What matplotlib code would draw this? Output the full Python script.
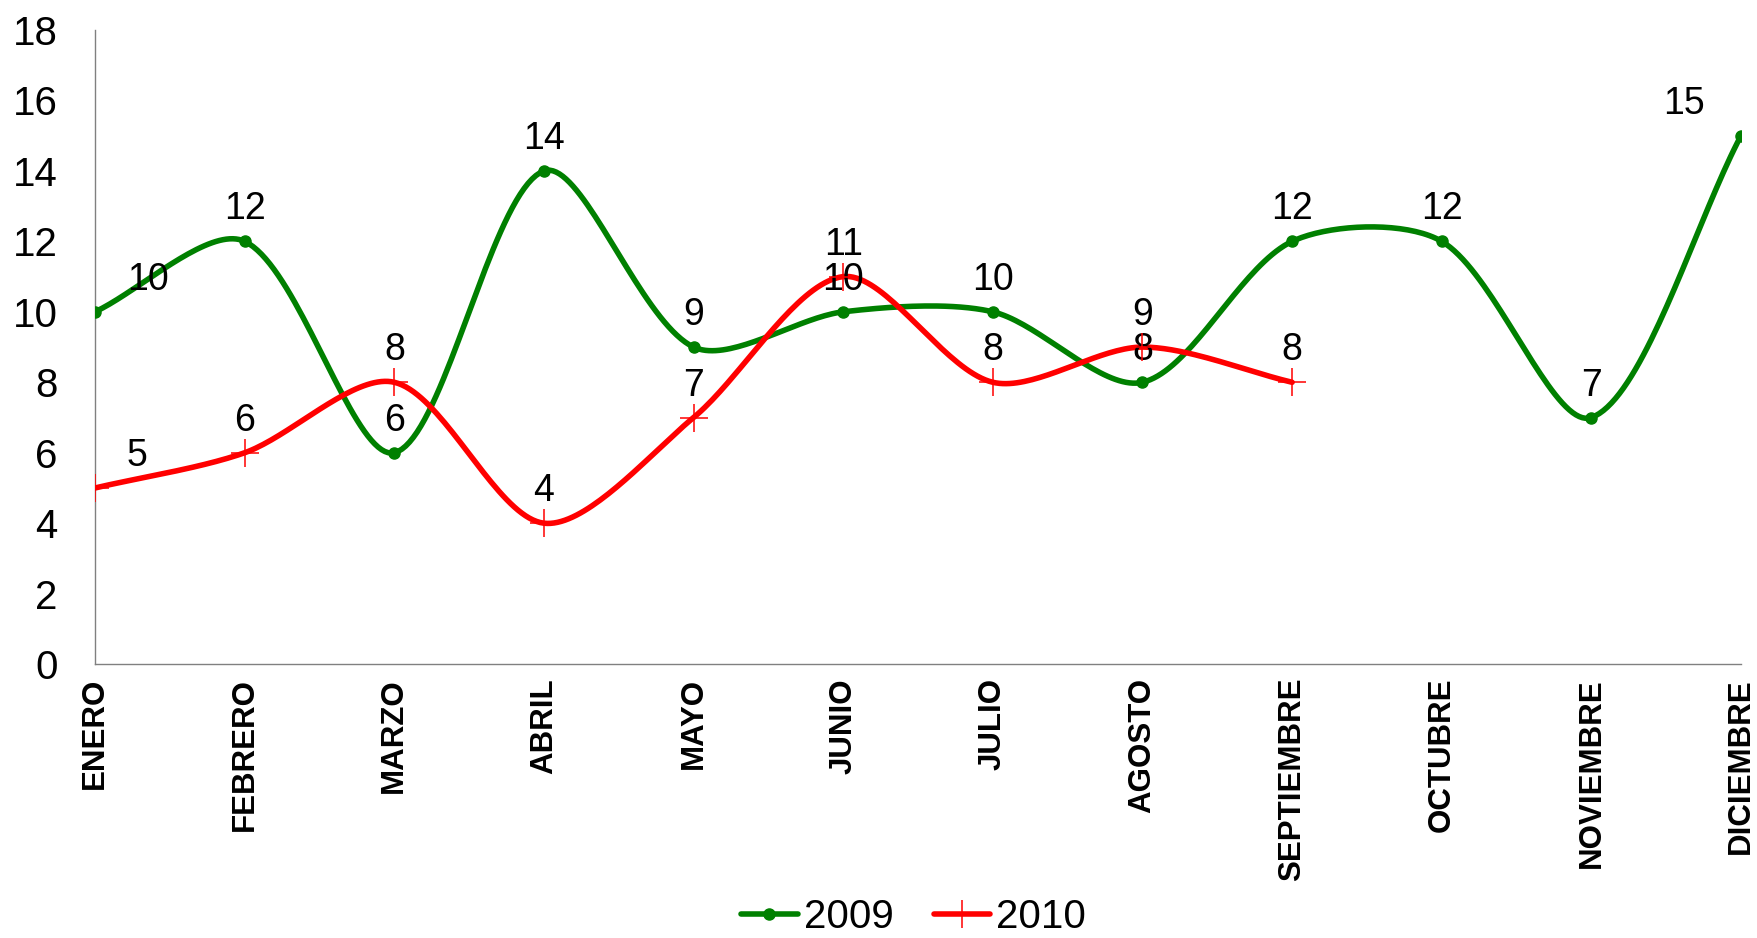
import numpy as np
import matplotlib.pyplot as plt
from matplotlib.lines import Line2D

months = ['ENERO', 'FEBRERO', 'MARZO', 'ABRIL', 'MAYO', 'JUNIO', 'JULIO',
          'AGOSTO', 'SEPTIEMBRE', 'OCTUBRE', 'NOVIEMBRE', 'DICIEMBRE']
vals_2009 = [10, 12, 6, 14, 9, 10, 10, 8, 12, 12, 7, 15]
vals_2010 = [5, 6, 8, 4, 7, 11, 8, 9, 8]

plt.rcParams['font.family'] = ['Liberation Sans', 'DejaVu Sans']

# pixel size of one unit on each axis, so the smoothing is done in screen space
XPX = 1646 / 11
YPX = 634 / 18


def smooth(y, steps=40, k=0.9):
    # excel-like smoothed line: bezier, control points scaled by chord length
    p = np.column_stack([np.arange(len(y)) * XPX, np.asarray(y, float) * YPX])
    n = len(p)
    t = np.linspace(0, 1, steps)[:, None]
    out = []
    for i in range(n - 1):
        a = p[max(i - 1, 0)]
        b = p[i]
        c = p[i + 1]
        d = p[min(i + 2, n - 1)]
        lab = np.linalg.norm(b - a)
        lbc = np.linalg.norm(c - b)
        lcd = np.linalg.norm(d - c)
        c1 = b + (c - a) * lbc / (lab + lbc) / 3 * k
        c2 = c - (d - b) * lbc / (lbc + lcd) / 3 * k
        out.append((1 - t) ** 3 * b + 3 * (1 - t) ** 2 * t * c1
                   + 3 * (1 - t) * t ** 2 * c2 + t ** 3 * c)
    out = np.vstack(out)
    return out[:, 0] / XPX, out[:, 1] / YPX


fig = plt.figure(figsize=(17.57, 9.38), dpi=100)
ax = fig.add_axes([0.0541, 0.292, 0.9368, 0.676])

green = '#008000'
red = '#ff0000'

sx, sy = smooth(vals_2009)
ax.plot(sx, sy, color=green, lw=4.0, solid_capstyle='round', zorder=3)
ax.plot(range(len(vals_2009)), vals_2009, 'o', color=green, ms=8, zorder=4)

sx, sy = smooth(vals_2010)
ax.plot(sx, sy, color=red, lw=4.0, solid_capstyle='round', zorder=3)
ax.plot(range(len(vals_2010)), vals_2010, '+', color=red, ms=20, mew=1.1, zorder=4)


def label(series):
    last = len(months) - 1
    for i, v in enumerate(series):
        if i == 0:
            off, ha = (23, 10), 'left'
        elif i == last:
            off, ha = (-26, 10), 'right'
        else:
            off, ha = (0, 10), 'center'
        ax.annotate(str(v), (i, v), xytext=off, textcoords='offset points',
                    ha=ha, va='bottom', fontsize=27)


label(vals_2009)
label(vals_2010)

ax.set_xlim(0, len(months) - 1)
ax.set_ylim(0, 18)
ax.set_yticks(range(0, 19, 2))
ax.set_xticks(range(len(months)))
ax.set_xticklabels(months, rotation=90, fontsize=22.5, fontweight='bold')
ax.tick_params(axis='y', labelsize=29, length=0, pad=27)
ax.tick_params(axis='x', length=0, pad=10)
for s in ['top', 'right']:
    ax.spines[s].set_visible(False)
for s in ['left', 'bottom']:
    ax.spines[s].set_color('#808080')
    ax.spines[s].set_linewidth(1)

handles = [Line2D([], [], color=green, lw=4.0, marker='o', ms=8, solid_capstyle='round'),
           Line2D([], [], color=red, lw=4.0, marker='+', ms=20, mew=1.1, solid_capstyle='round')]
fig.legend(handles, ['2009', '2010'], loc='center', bbox_to_anchor=(0.52, 0.022),
           ncol=2, frameon=False, fontsize=29, handlelength=1.4, handletextpad=0.15,
           columnspacing=1.0, borderaxespad=0)

fig.savefig('out.png', dpi=100)
